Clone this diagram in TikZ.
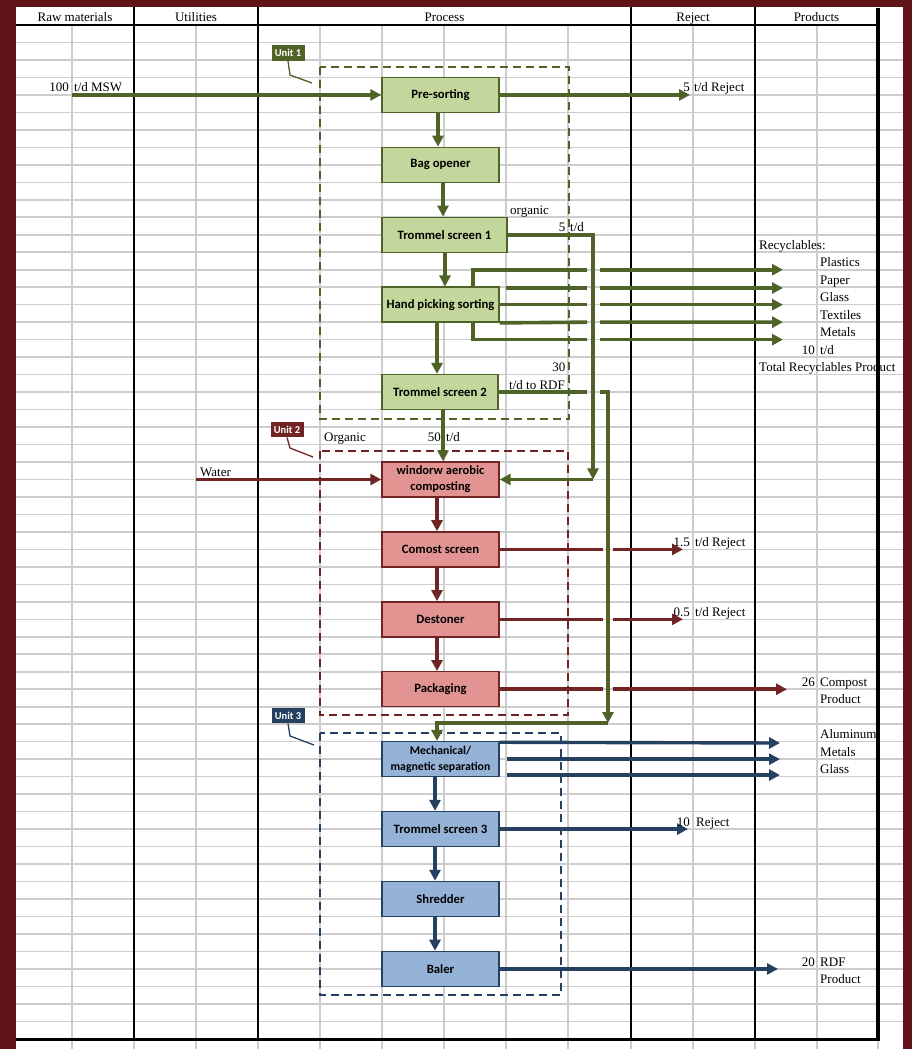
\documentclass[tikz,border=0pt]{standalone}
\usepackage{fontspec}
\setmainfont{Liberation Serif}
\newfontfamily\boxfont{Carlito}
\usetikzlibrary{arrows.meta}
\definecolor{bord}{RGB}{96,20,24}
\definecolor{gline}{RGB}{79,98,40}
\definecolor{gfill}{RGB}{195,214,155}
\definecolor{rline}{RGB}{112,36,36}
\definecolor{rfill}{RGB}{226,148,146}
\definecolor{bline}{RGB}{38,64,97}
\definecolor{bfill}{RGB}{149,179,215}
\definecolor{gridc}{RGB}{205,205,205}
\begin{document}
\begin{tikzpicture}[x=1pt,y=-1pt,font=\fontsize{13}{15}\selectfont,
  proc/.style={line width=1.4pt, minimum width=117pt, minimum height=35pt, inner sep=1pt,
    align=center, font=\boxfont\bfseries\fontsize{12.7}{15}\selectfont},
  gproc/.style={proc, draw=gline, fill=gfill},
  rproc/.style={proc, draw=rline, fill=rfill},
  bproc/.style={proc, draw=bline, fill=bfill},
  tipA/.style={-{Triangle[length=11pt,width=11pt]}},
  flowg/.style={draw=gline, line width=3.6pt, tipA},
  flowr/.style={draw=rline, line width=3.6pt, tipA},
  flowb/.style={draw=bline, line width=3.4pt, tipA},
  ulab/.style={fill=#1, text=white, font=\boxfont\bfseries\fontsize{10.5}{12}\selectfont,
    inner sep=1pt, minimum width=33pt, minimum height=15.5pt},
  unitbox/.style={draw=#1, line width=1.5pt, dash pattern=on 8pt off 5pt},
  callout/.style={draw=#1, line width=1.3pt},
  cell/.style={inner sep=0pt},
  gridline/.style={draw=gridc, line width=1.6pt}
]
\useasboundingbox (0,0) rectangle (912,1049);
\fill[bord] (0,0) rectangle (912,1049);
\fill[white] (16,7) rectangle (903,1049);

% spreadsheet grid
\foreach \k in {1,...,57} \draw[gridline] (16,{25+17.48*\k}) -- (903,{25+17.48*\k});
\foreach \x in {72,196,320,382,444,506,568,693,817} \draw[gridline] (\x,25) -- (\x,1049);
\foreach \x in {134,258,631,755,878} \draw[gridline] (\x,1039) -- (\x,1049);
\foreach \x in {134,258,631,755} \draw[line width=2pt] (\x,7) -- (\x,1039);
\draw[line width=1.5pt] (16,25) -- (878,25);
\draw[line width=3.5pt] (878,8) -- (878,1040.5);
\draw[line width=3pt] (16,1039) -- (879.75,1039);

% headers
\node[cell, anchor=base] (hraw) at (75,22) {Raw materials};
\node[cell, anchor=base] (hutil) at (196,22) {Utilities};
\node[cell, anchor=base] (hproc) at (444.5,22) {Process};
\node[cell, anchor=base] (hrej) at (693,22) {Reject};
\node[cell, anchor=base] (hprod) at (816.5,22) {Products};

% unit boxes
\draw[unitbox=gline] (320,67) rectangle (569,419);
\draw[unitbox=rline] (320,451) rectangle (568,715);
\draw[unitbox=bline] (320,733) rectangle (561,995);

% unit labels
\node[ulab=gline] (u1) at (288,53) {Unit 1};
\draw[callout=gline] (u1.south) -- (290,75) -- (312,83);
\node[ulab=rline] (u2) at (287,429.5) {Unit 2};
\draw[callout=rline] (u2.south) -- (290,448) -- (313,457);
\node[ulab=bline] (u3) at (288,715.5) {Unit 3};
\draw[callout=bline] (u3.south) -- (290,736) -- (314,745);

% process boxes
\node[gproc] (ps) at (440.5,94.92) {Pre-sorting};
\node[gproc] (bo) at (440.5,164.84) {Bag opener};
\node[gproc, minimum width=125pt] (t1) at (444.5,234.76) {Trommel screen 1};
\node[gproc] (hp) at (440.5,304.68) {Hand picking sorting};
\node[gproc, minimum width=116pt] (t2) at (440,392.08) {Trommel screen 2};
\node[rproc, font=\boxfont\bfseries\fontsize{12.5}{16}\selectfont] (comp) at (440.5,479.48) {windorw aerobic\\composting};
\node[rproc] (cs) at (440.5,549.4) {Comost screen};
\node[rproc] (ds) at (440.5,619.32) {Destoner};
\node[rproc] (pk) at (440.5,689.24) {Packaging};
\node[bproc, font=\boxfont\bfseries\fontsize{11.8}{15.5}\selectfont] (ms) at (440.5,759.16) {Mechanical/\\magnetic separation};
\node[bproc] (t3) at (440.5,829.08) {Trommel screen 3};
\node[bproc] (sh) at (440.5,899) {Shredder};
\node[bproc] (ba) at (440.5,968.92) {Baler};

% free ends
\coordinate (msw) at (72,94.92);
\coordinate (rej1) at (690,94.92);
\coordinate (c1) at (593,479.48);
\coordinate (c2) at (608,723);
\coordinate (water) at (196,479.48);
\coordinate (rp1) at (783,269.7);
\coordinate (rp2) at (783,288);
\coordinate (rp3) at (783,304.68);
\coordinate (rp4) at (783,322.16);
\coordinate (rp5) at (783,339.64);
\coordinate (rej2) at (683,549.4);
\coordinate (rej3) at (683,619.32);
\coordinate (cpro) at (787,689.24);
\coordinate (al) at (780,743);
\coordinate (me) at (780,759.16);
\coordinate (gl) at (780,775);
\coordinate (rej4) at (688,829.08);
\coordinate (rdf) at (778,968.92);

% green flows
\draw[flowg] (msw) -- (ps.west);
\draw[flowg] (ps.east) -- (rej1);
\draw[flowg] ([xshift=-2.5pt]ps.south) -- ([xshift=-2.5pt]bo.north);
\draw[flowg] ([xshift=2.5pt]bo.south) -- ([xshift=-1.5pt]t1.north);
\draw[flowg] ([xshift=0.5pt]t1.south) -- ([xshift=4.5pt]hp.north);
\draw[flowg] ([xshift=-3.5pt]hp.south) -- ([xshift=-3pt]t2.north);
\draw[flowg] ([xshift=3pt]t2.south) -- ([xshift=2.5pt]comp.north);
\draw[flowg] (t1.east) -- (593,234.76) -- (c1);
\draw[flowg] (c1) -- (comp.east);
\draw[flowg] ([xshift=32.5pt]hp.north) -- (473,269.7) -- (587,269.7) (600,269.7) -- (rp1);
\draw[flowg] (506,288) -- (587,288) (600,288) -- (rp2);
\draw[flowg] (hp.east) -- (587,304.68) (600,304.68) -- (rp3);
\draw[flowg] (hp.south east) -- (587,322.16) (600,322.16) -- (rp4);
\draw[flowg] ([xshift=32.5pt]hp.south) -- (473,339.64) -- (587,339.64) (600,339.64) -- (rp5);
\draw[flowg] (t2.east) -- (587,392.08) (600,392.08) -- (608,392.08) -- (c2);
\draw[flowg] (c2) -- (437,723) -- ([xshift=-3.5pt]ms.north);

% red flows
\draw[flowr] (water) -- (comp.west);
\draw[flowr] ([xshift=-3.5pt]comp.south) -- ([xshift=-3.5pt]cs.north);
\draw[flowr] ([xshift=-3.5pt]cs.south) -- ([xshift=-3.5pt]ds.north);
\draw[flowr] ([xshift=-3.5pt]ds.south) -- ([xshift=-3.5pt]pk.north);
\draw[flowr] (cs.east) -- (603,549.4) (613,549.4) -- (rej2);
\draw[flowr] (ds.east) -- (603,619.32) (613,619.32) -- (rej3);
\draw[flowr] (pk.east) -- (603,689.24) (613,689.24) -- (cpro);

% blue flows
\draw[flowb] (ms.north east) ++(0,1.3) -- (al);
\draw[flowb] (507,759.16) -- (me);
\draw[flowb] (507,775) -- (gl);
\draw[flowb] ([xshift=-5.5pt]ms.south) -- ([xshift=-5.5pt]t3.north);
\draw[flowb] ([xshift=-5.5pt]t3.south) -- ([xshift=-5.5pt]sh.north);
\draw[flowb] ([xshift=-5.5pt]sh.south) -- ([xshift=-5.5pt]ba.north);
\draw[flowb] (t3.east) -- (rej4);
\draw[flowb] (ba.east) -- (rdf);

% cell texts
\node[cell, anchor=base east] (n100) at (69,91.9) {100};
\node[cell, anchor=base west] (nmsw) at (74,91.9) {t/d MSW};
\node[cell, anchor=base east] (n5a) at (690,91.9) {5};
\node[cell, anchor=base west] (nrej1) at (694,91.9) {t/d Reject};
\node[cell, anchor=base west] (norg) at (510,214.3) {organic};
\node[cell, anchor=base east] (n5b) at (565.5,231.8) {5};
\node[cell, anchor=base west] (ntd5) at (570,231.8) {t/d};
\node[cell, anchor=base west] (nrec) at (759,249.2) {Recyclables:};
\node[cell, anchor=base west] (npla) at (820,266.7) {Plastics};
\node[cell, anchor=base west] (npap) at (820,284.2) {Paper};
\node[cell, anchor=base west] (ngla) at (820,301.7) {Glass};
\node[cell, anchor=base west] (ntex) at (820,319.2) {Textiles};
\node[cell, anchor=base west] (nmet) at (820,336.6) {Metals};
\node[cell, anchor=base east] (n10a) at (815,354.1) {10};
\node[cell, anchor=base west] (ntd10) at (820,354.1) {t/d};
\node[cell, anchor=base west] (ntot) at (759,371.6) {Total Recyclables Product};
\node[cell, anchor=base east] (n30) at (565.5,371.6) {30};
\node[cell, anchor=base west] (nrdf) at (509,389.1) {t/d to RDF};
\node[cell, anchor=base west] (norg2) at (324,441.5) {Organic};
\node[cell, anchor=base east] (n50) at (441,441.5) {50};
\node[cell, anchor=base west] (ntd50) at (446,441.5) {t/d};
\node[cell, anchor=base west] (nwat) at (200,476.5) {Water};
\node[cell, anchor=base east] (n15) at (690,546.4) {1.5};
\node[cell, anchor=base west] (nrej2) at (695,546.4) {t/d Reject};
\node[cell, anchor=base east] (n05) at (690,616.3) {0.5};
\node[cell, anchor=base west] (nrej3) at (695,616.3) {t/d Reject};
\node[cell, anchor=base east] (n26) at (815,686.2) {26};
\node[cell, anchor=base west] (ncomp) at (820,686.2) {Compost};
\node[cell, anchor=base west] (nprod1) at (820,703.7) {Product};
\node[cell, anchor=base west] (nalu) at (820,738.7) {Aluminum};
\node[cell, anchor=base west] (nmet2) at (820,756.2) {Metals};
\node[cell, anchor=base west] (ngla2) at (820,773.6) {Glass};
\node[cell, anchor=base east] (n10b) at (690,826.1) {10};
\node[cell, anchor=base west] (nrej4) at (696,826.1) {Reject};
\node[cell, anchor=base east] (n20) at (815,966) {20};
\node[cell, anchor=base west] (nrdf2) at (820,966) {RDF};
\node[cell, anchor=base west] (nprod2) at (820,983.4) {Product};
\end{tikzpicture}
\end{document}
